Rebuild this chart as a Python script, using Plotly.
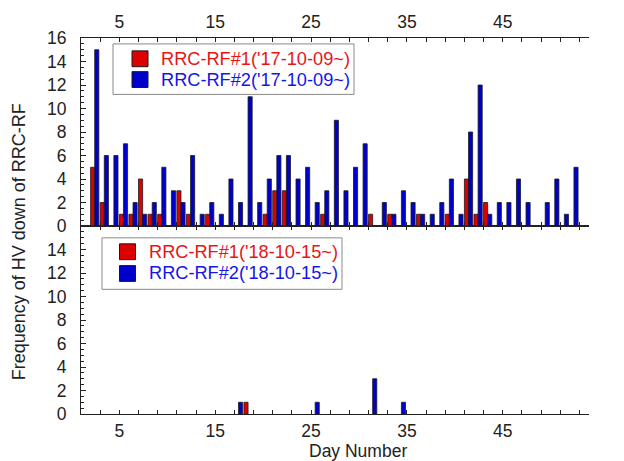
import plotly.graph_objects as go

# ---------------- data ----------------
days = list(range(2, 53))

# top panel ('17-10-09~)
rf1_2017 = [5, 2, 0, 1, 1, 4, 1, 1, 0, 3, 1, 0, 1, 0, 0, 0, 0, 0, 1, 3, 3, 0, 0, 0, 1, 0,
            0, 0, 0, 1, 0, 1, 0, 0, 1, 0, 0, 1, 0, 4, 1, 2, 0, 0, 0, 0, 0, 0, 0, 0, 0]
rf2_2017 = [15, 6, 6, 7, 2, 1, 2, 5, 3, 2, 6, 1, 2, 1, 4, 2, 11, 2, 4, 6, 6, 4, 5, 2, 3, 9,
            3, 5, 7, 0, 2, 1, 3, 2, 1, 1, 2, 4, 1, 8, 12, 1, 2, 2, 4, 2, 0, 2, 4, 1, 5]

# bottom panel ('18-10-15~)
rf1_2018 = [0] * len(days)
rf2_2018 = [0] * len(days)
rf1_2018[days.index(18)] = 1
rf2_2018[days.index(17)] = 1
rf2_2018[days.index(25)] = 1
rf2_2018[days.index(31)] = 3
rf2_2018[days.index(34)] = 1

names_top = ["RRC-RF#1('17-10-09~)", "RRC-RF#2('17-10-09~)"]
names_bot = ["RRC-RF#1('18-10-15~)", "RRC-RF#2('18-10-15~)"]

x_ticks = [5, 15, 25, 35, 45]
y_ticks_top = [0, 2, 4, 6, 8, 10, 12, 14, 16]
y_ticks_bot = [0, 2, 4, 6, 8, 10, 12, 14]

# ---------------- style ----------------
RED = "#dd0000"
BLUE = "#0000cc"
RED_TXT = "#e81515"
BLUE_TXT = "#1515e8"
EDGE = "#1a1a1a"
FONT = "Liberation Sans, Arial, Helvetica, sans-serif"
FS = 17.5
LFS = 18.2
W = 0.43

# plot-area geometry in pixels (used for legend-box placement)
L, R, T, B = 81, 35, 34, 47
FW, FH = 624, 461
PW, PH = FW - L - R, FH - T - B


def px(xp):
    return (xp - L) / PW


def py(yp):
    return (FH - B - yp) / PH


def nz(v):
    return [None if a == 0 else a for a in v]


fig = go.Figure()

# bars
for vals, col, off, xa, ya in [
    (rf1_2017, RED, 0.0, "x2", "y2"),
    (rf2_2017, BLUE, W, "x2", "y2"),
    (rf1_2018, RED, 0.0, "x", "y"),
    (rf2_2018, BLUE, W, "x", "y"),
]:
    fig.add_trace(go.Bar(
        x=days, y=nz(vals), offset=off, width=W,
        marker=dict(color=col, line=dict(color=EDGE, width=0.8)),
        xaxis=xa, yaxis=ya, showlegend=False, hoverinfo="x+y",
    ))

shapes = []
annotations = []


def add_legend(box, sq_x, rows, text_x, names):
    x0, x1, y0, y1 = box
    shapes.append(dict(type="rect", xref="paper", yref="paper",
                       x0=px(x0), x1=px(x1), y0=py(y1), y1=py(y0),
                       line=dict(color="#8a8a8a", width=1), fillcolor="white", layer="above"))
    for (cy, col, tcol), nm in zip(rows, names):
        shapes.append(dict(type="rect", xref="paper", yref="paper",
                           x0=px(sq_x), x1=px(sq_x + 16), y0=py(cy + 8), y1=py(cy - 8),
                           line=dict(color=EDGE, width=1), fillcolor=col, layer="above"))
        annotations.append(dict(text=nm, xref="paper", yref="paper", x=px(text_x), y=py(cy),
                                xanchor="left", yanchor="middle", showarrow=False,
                                font=dict(family=FONT, size=LFS, color=tcol)))


add_legend((113, 354, 40, 91), 132, [(55, RED, RED_TXT), (76, BLUE, BLUE_TXT)], 159, names_top)
add_legend((102, 342, 236, 288), 119.5, [(250, RED, RED_TXT), (272, BLUE, BLUE_TXT)], 147, names_bot)

annotations += [
    dict(text="Day Number", xref="paper", yref="paper", x=px(358), y=py(451),
         xanchor="center", yanchor="middle", showarrow=False,
         font=dict(family=FONT, size=FS, color="#222")),
    dict(text="Frequency of HV down of RRC-RF", xref="paper", yref="paper",
         x=px(18.5), y=py(240), xanchor="center", yanchor="middle", textangle=-90,
         showarrow=False, font=dict(family=FONT, size=18, color="#222")),
]

axis_common = dict(
    showline=True, linecolor="#222", linewidth=1,
    ticks="inside", tickcolor="#222", showgrid=False, zeroline=False,
    tickfont=dict(family=FONT, size=FS, color="#222"),
)

xcommon = dict(
    range=[1, 54], tickmode="array", tickvals=x_ticks, ticklen=4,
    minor=dict(tick0=1, dtick=2, ticks="inside", ticklen=4, tickcolor="#222", showgrid=False),
    mirror="ticks", **axis_common,
)

yminor = dict(dtick=0.5, tick0=0, ticks="inside", ticklen=2.5, tickcolor="#222")

fig.update_layout(
    width=FW, height=FH,
    margin=dict(l=L, r=R, t=T, b=B),
    paper_bgcolor="white", plot_bgcolor="white",
    barmode="overlay", showlegend=False,
    font=dict(family=FONT, size=FS, color="#222"),
    xaxis=dict(anchor="y", side="bottom", ticklabelstandoff=1, **xcommon),
    xaxis2=dict(anchor="y2", side="top", matches="x", ticklabelstandoff=2, **xcommon),
    yaxis=dict(domain=[0, 0.5], range=[0, 16], tickmode="array", tickvals=y_ticks_bot,
               ticklen=5, side="left", anchor="x", ticklabelstandoff=10, minor=yminor,
               **axis_common),
    yaxis2=dict(domain=[0.5, 1], range=[0, 16], tickmode="array", tickvals=y_ticks_top,
                ticklen=5, side="left", anchor="x2", ticklabelstandoff=10, minor=yminor,
                **axis_common),
    yaxis3=dict(overlaying="y", range=[0, 16], tickmode="array", tickvals=y_ticks_bot,
                ticklen=5, side="right", anchor="x", ticklabelstandoff=9, minor=yminor,
                **axis_common),
    yaxis4=dict(overlaying="y2", range=[0, 16], tickmode="array", tickvals=y_ticks_top,
                ticklen=5, side="right", anchor="x2", ticklabelstandoff=9, minor=yminor,
                **axis_common),
    shapes=shapes,
    annotations=annotations,
)

fig.write_html(
    "out.html",
    config={"displayModeBar": False},
    post_script="document.body.style.margin='0px';document.body.style.overflow='hidden';",
)
